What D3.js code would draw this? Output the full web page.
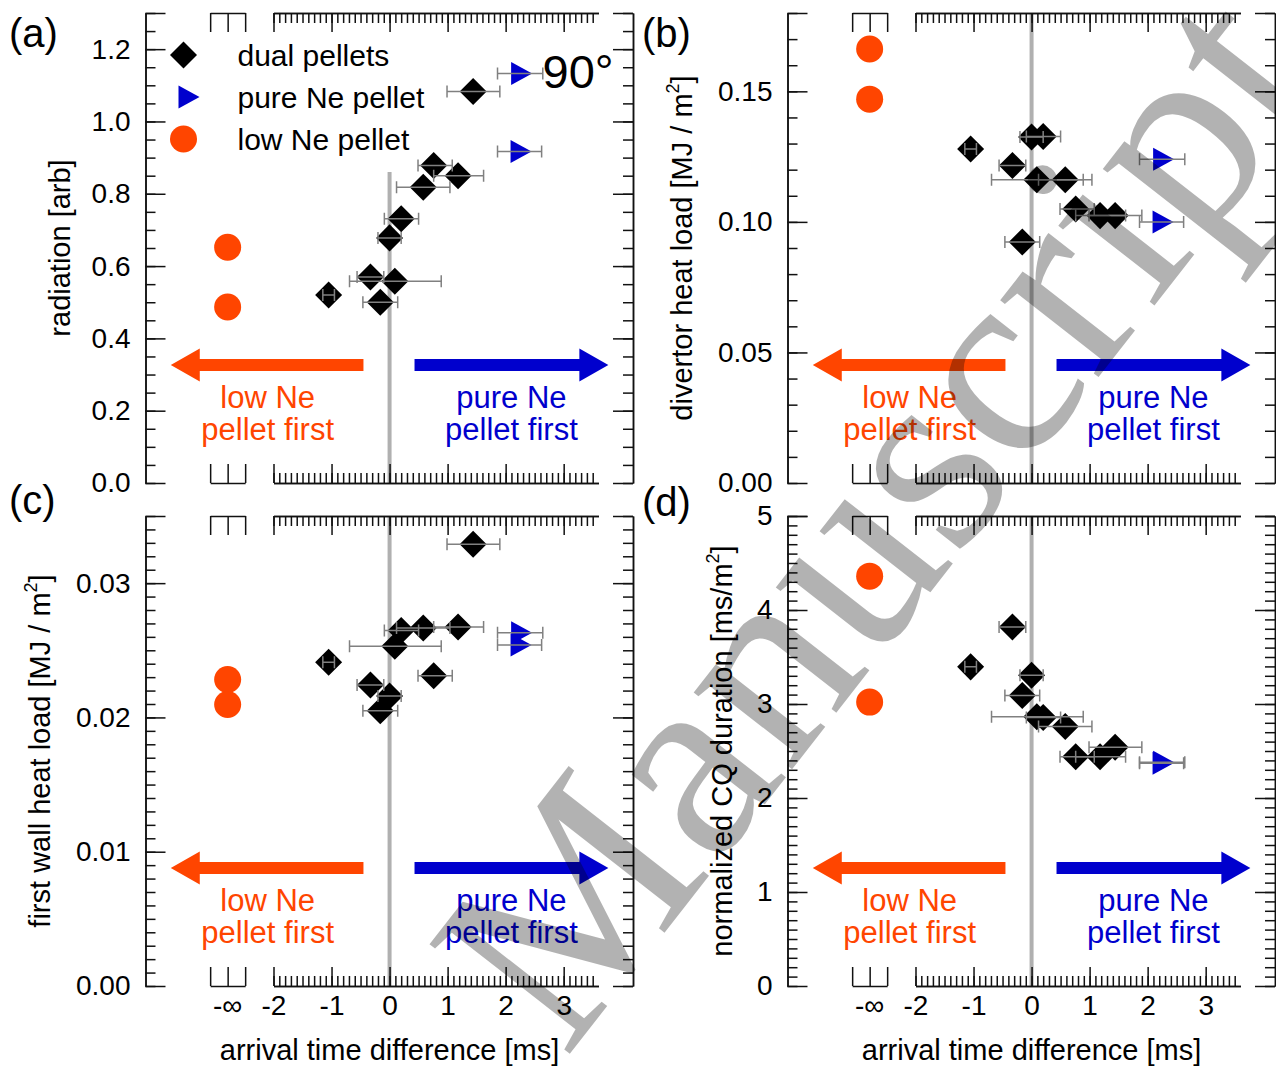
<!DOCTYPE html>
<html>
<head>
<meta charset="utf-8">
<script src="https://cdn.jsdelivr.net/npm/d3@7"></script>
<style>
  body { margin: 0; background: #fff; }
  svg { display: block; }
</style>
</head>
<body>
<script>
    // ---- data ----
    // dual pellet shots: arrival time difference [ms] and its error range
    var dualX   = [-1.05, -0.33, -0.16, 0.00, 0.09, 0.20, 0.58, 0.76, 1.18, 1.44]
    var dualXLo = [-1.15, -0.56, -0.46, -0.20, -0.69, -0.09, 0.12, 0.49, 0.76, 0.99]
    var dualXHi = [-0.95, -0.10, 0.14, 0.20, 0.89, 0.50, 1.04, 1.08, 1.62, 1.90]
    // pure Ne pellet only
    var pureX   = [2.25, 2.24]
    var pureXLo = [1.86, 1.86]
    var pureXHi = [2.64, 2.62]

    var radDual = [0.52, 0.57, 0.50, 0.678, 0.558, 0.731, 0.818, 0.878, 0.85, 1.083]
    var radPure = [1.133, 0.917]
    var radLow  = [0.652, 0.487]

    var divDual = [0.1279, 0.1216, 0.0923, 0.1325, 0.1161, 0.1327, 0.1161, 0.1049, 0.1024, 0.1024]
    var divPure = [0.124, 0.100]
    var divLow  = [0.1662, 0.1470]

    var fwDual = [0.02411, 0.02241, 0.0205, 0.02159, 0.0253, 0.02647, 0.02666, 0.0231, 0.02674, 0.0329]
    var fwPure = [0.0263, 0.0254]
    var fwLow  = [0.02283, 0.02096]

    var cqDual = [3.395, 3.82, 3.09, 3.305, 2.864, 2.856, 2.76, 2.44, 2.44, 2.54]
    var cqPure = [2.38, 2.37]
    var cqLow  = [4.36, 3.02]

    var xTickLabels = [-2, -1, 0, 1, 2, 3]

    var width = 1276, height = 1068
    var pw = 487.5, ph = 470
    var orange = '#ff4500', blue = '#0000cd'
    var font = '"Liberation Sans", Arial, Helvetica, sans-serif'

    var svg = d3.select('body').append('svg').attr('width', width).attr('height', height)
        .attr('font-family', font)
    svg.append('rect').attr('width', width).attr('height', height).attr('fill', 'white')

    var panels = [
        {tag: '(a)', tagX: 9, tagY: 33, left: 145.5, top: 13, ymax: 1.3, major: 0.2, minor: 0.05, fmt: '.1f',
         dual: radDual, pure: radPure, low: radLow, zeroTop: 0.86,
         title: ['radiation [arb]', '', ''], titleX: 60, xlabels: false, legend: true},
        {tag: '(b)', tagX: 642, tagY: 33, left: 787.5, top: 13, ymax: 0.18, major: 0.05, minor: 0.01, fmt: '.2f',
         dual: divDual, pure: divPure, low: divLow, zeroTop: 0.18,
         title: ['divertor heat load [MJ / m', '2', ']'], titleX: 682, xlabels: false},
        {tag: '(c)', tagX: 9, tagY: 500, left: 145.5, top: 516, ymax: 0.035, major: 0.01, minor: 0.001, fmt: '.2f',
         dual: fwDual, pure: fwPure, low: fwLow, zeroTop: 0.035,
         title: ['first wall heat load [MJ / m', '2', ']'], titleX: 40, xlabels: true},
        {tag: '(d)', tagX: 642, tagY: 502, left: 787.5, top: 516, ymax: 5, major: 1, minor: 0.1, fmt: 'd',
         dual: cqDual, pure: cqPure, low: cqLow, zeroTop: 5,
         title: ['normalized CQ duration [ms/m', '2', ']'], titleX: 722, xlabels: true}
    ]

    panels.forEach(drawPanel)

    function styleAxis(sel) {
        sel.selectAll('path, line').attr('stroke', '#111').attr('stroke-width', 1.5)
    }

    function drawPanel(p) {
        var g = svg.append('g').attr('transform', `translate(${p.left},${p.top})`)
        var x = d3.scaleLinear().domain([-2, 3.6]).range([128, 453])
        var y = d3.scaleLinear().domain([0, p.ymax]).range([ph, 0])
        var xInf = x(-2.79)
        var xInfScale = d3.scaleLinear().domain([-1, 1]).range([xInf - 17.5, xInf + 17.5])

        var n = Math.round(p.ymax / p.minor)
        var yMinor = d3.range(0, n + 1).map(function(i){ return +(i * p.minor).toFixed(6) })
        var yMajor = yMinor.filter(function(v){ return Math.abs(v / p.major - Math.round(v / p.major)) < 1e-6 })
        var yMajorLab = yMajor.slice()
        yMajor.push(p.ymax)
        var xMinor = d3.range(0, 56).map(function(i){ return +(-2 + i * 0.1).toFixed(2) })

        // zero line
        g.append('line').attr('x1', x(0)).attr('x2', x(0)).attr('y1', y(p.zeroTop)).attr('y2', ph)
            .attr('stroke', '#b0b0b0').attr('stroke-width', 4)

        // y axes, ticks pointing inwards
        g.append('g').call(d3.axisRight(y).tickValues(yMinor).tickSize(10).tickSizeOuter(0).tickFormat('')).call(styleAxis)
        g.append('g').call(d3.axisRight(y).tickValues(yMajor).tickSize(20).tickSizeOuter(0).tickFormat('')).call(styleAxis)
        g.append('g').attr('transform', `translate(${pw},0)`)
            .call(d3.axisLeft(y).tickValues(yMinor).tickSize(10).tickSizeOuter(0).tickFormat('')).call(styleAxis)
        g.append('g').attr('transform', `translate(${pw},0)`)
            .call(d3.axisLeft(y).tickValues(yMajor).tickSize(20).tickSizeOuter(0).tickFormat('')).call(styleAxis)
        var yl = g.append('g').call(d3.axisLeft(y).tickValues(yMajorLab).tickSize(0).tickPadding(15).tickFormat(d3.format(p.fmt)))
        yl.select('.domain').remove()
        yl.attr('font-size', 28).attr('font-family', font)
        yl.selectAll('text').attr('fill', '#000')

        // x axes bottom and top
        ;[[ph, d3.axisTop], [0, d3.axisBottom]].forEach(function(a){
            var gg = g.append('g').attr('transform', `translate(0,${a[0]})`)
            gg.append('g').call(a[1](x).tickValues(xMinor).tickSize(10).tickSizeOuter(0).tickFormat('')).call(styleAxis)
            gg.append('g').call(a[1](x).tickValues(xTickLabels).tickSize(19).tickSizeOuter(0).tickFormat('')).call(styleAxis)
            gg.append('g').call(a[1](xInfScale).tickValues([-1, 0, 1]).tickSize(19).tickSizeOuter(0).tickFormat('')).call(styleAxis)
        })
        if (p.xlabels) {
            var xl = g.append('g').attr('transform', `translate(0,${ph})`)
                .call(d3.axisBottom(x).tickValues(xTickLabels).tickSize(0).tickFormat(d3.format('d')))
            xl.select('.domain').remove()
            xl.attr('font-size', 28).attr('font-family', font)
            xl.selectAll('text').attr('y', 19).attr('dy', '0.35em').attr('fill', '#000')
                .text(function(d){ return d < 0 ? '-' + Math.abs(d) : d })
            g.append('text').attr('x', xInf).attr('y', ph + 19).attr('dy', '0.35em')
                .attr('text-anchor', 'middle').attr('font-size', 28).text('-\u221e')
            g.append('text').attr('x', x(0)).attr('y', ph + 64).attr('dy', '0.35em')
                .attr('text-anchor', 'middle').attr('font-size', 29).text('arrival time difference [ms]')
        }

        // arrows and labels
        var ay = ph - 118
        function arrow(x0, x1, col) {
            var dir = x1 > x0 ? 1 : -1, hb = x1 - dir * 29
            var pts = [[x0, ay - 6], [hb, ay - 6], [hb, ay - 16.5], [x1, ay], [hb, ay + 16.5], [hb, ay + 6], [x0, ay + 6]]
            g.append('path').attr('d', d3.line()(pts) + 'Z').attr('fill', col)
        }
        arrow(x(-0.45), x(-3.77), orange)
        arrow(x(0.43), x(3.77), blue)
        ;[['low Ne', 'pellet first', x(-2.1), orange], ['pure Ne', 'pellet first', x(2.1), blue]].forEach(function(t){
            g.append('text').attr('x', t[2]).attr('y', ph - 86).attr('dy', '0.35em').attr('text-anchor', 'middle')
                .attr('font-size', 31).attr('fill', t[3]).text(t[0])
            g.append('text').attr('x', t[2]).attr('y', ph - 54).attr('dy', '0.35em').attr('text-anchor', 'middle')
                .attr('font-size', 31).attr('fill', t[3]).text(t[1])
        })

        // markers
        var diamond = d3.symbol().type(d3.symbolSquare).size(365)
        g.selectAll('.low').data(p.low).enter().append('circle')
            .attr('cx', xInf).attr('cy', function(d){ return y(d) }).attr('r', 13.5).attr('fill', orange)
        g.selectAll('.dual').data(p.dual).enter().append('path').attr('d', diamond)
            .attr('transform', function(d, i){ return `translate(${x(dualX[i])},${y(d)}) rotate(45)` })
            .attr('fill', '#000')
        g.selectAll('.pure').data(p.pure).enter().append('path').attr('d', 'M-9,-11.5L12,0L-9,11.5Z')
            .attr('transform', function(d, i){ return `translate(${x(pureX[i])},${y(d)})` })
            .attr('fill', blue)

        // x error bars on top of the markers
        function errbars(vals, lo, hi) {
            vals.forEach(function(v, i){
                var yy = y(v)
                var pts = [[x(lo[i]), yy - 6], [x(lo[i]), yy + 6], [x(lo[i]), yy], [x(hi[i]), yy], [x(hi[i]), yy - 6], [x(hi[i]), yy + 6]]
                g.append('path').attr('d', d3.line()(pts)).attr('fill', 'none')
                    .attr('stroke', '#808080').attr('stroke-width', 1.5)
            })
        }
        errbars(p.dual, dualXLo, dualXHi)
        errbars(p.pure, pureXLo, pureXHi)

        if (p.legend) {
            var items = [['dual pellets', 'd'], ['pure Ne pellet', 't'], ['low Ne pellet', 'c']]
            items.forEach(function(it, i){
                var ly = 42 + i * 42
                if (it[1] == 'd') g.append('path').attr('d', diamond).attr('transform', `translate(38,${ly}) rotate(45)`).attr('fill', '#000')
                if (it[1] == 't') g.append('path').attr('d', 'M-9,-11.5L12,0L-9,11.5Z').attr('transform', `translate(42,${ly})`).attr('fill', blue)
                if (it[1] == 'c') g.append('circle').attr('cx', 38).attr('cy', ly).attr('r', 13.5).attr('fill', orange)
                g.append('text').attr('x', 92).attr('y', ly).attr('dy', '0.35em').attr('font-size', 30).text(it[0])
            })
            g.append('text').attr('x', 397).attr('y', 59).attr('dy', '0.35em').attr('font-size', 47).text('90\u00b0')
        }

        // panel tag and y title
        svg.append('text').attr('x', p.tagX).attr('y', p.tagY).attr('dy', '0.35em')
            .attr('font-size', 40).text(p.tag)
        var tt = svg.append('text').attr('transform', `translate(${p.titleX},${p.top + ph / 2}) rotate(-90)`)
            .attr('dy', '0.35em').attr('text-anchor', 'middle').attr('font-size', 29)
        tt.append('tspan').text(p.title[0])
        if (p.title[1]) {
            tt.append('tspan').attr('font-size', 18).attr('dy', '-0.75em').text(p.title[1])
            tt.append('tspan').attr('dy', '0.45em').text(p.title[2])
        }
    }

    // watermark
    var wm = svg.append('g').attr('transform', 'translate(565,1060) rotate(-52)')
    wm.append('text').attr('font-family', '"Liberation Serif", "Times New Roman", serif')
        .attr('font-size', 272).attr('fill', '#000').attr('fill-opacity', 0.3).text('Manuscript')
</script>
</body>
</html>
